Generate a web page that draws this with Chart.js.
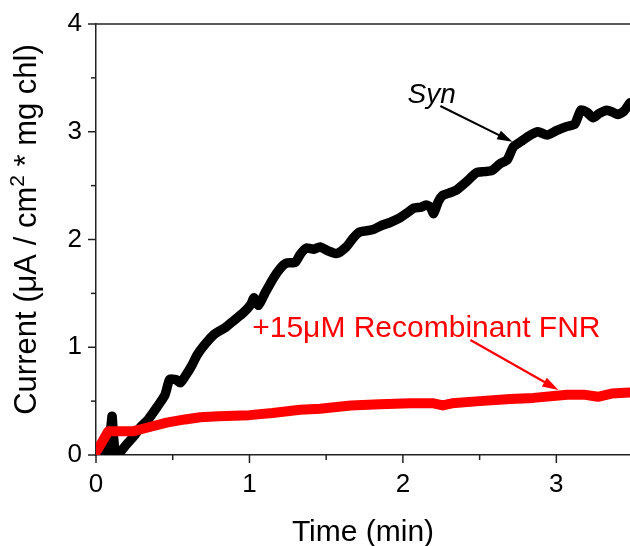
<!DOCTYPE html>
<html>
<head>
<meta charset="utf-8">
<script src="https://cdn.jsdelivr.net/npm/chart.js@4.4.1/dist/chart.umd.min.js"></script>
<style>
  html, body { margin: 0; padding: 0; background: #fff; }
  #wrap { width: 630px; height: 546px; position: relative; }
</style>
</head>
<body>
<div id="wrap"><canvas id="c" width="630" height="546"></canvas></div>
<script>
// ---- data ----
const xTicks = [0, 1, 2, 3];
const yTicks = [0, 1, 2, 3, 4];

const timeSyn = [0.05, 0.08, 0.10, 0.105, 0.115, 0.13, 0.16, 0.20, 0.25, 0.29, 0.34, 0.40, 0.45, 0.48, 0.52, 0.55, 0.59, 0.62, 0.66, 0.70, 0.77, 0.84, 0.90, 0.96, 1.01, 1.03, 1.06, 1.10, 1.16, 1.20, 1.24, 1.30, 1.33, 1.37, 1.42, 1.46, 1.52, 1.57, 1.63, 1.68, 1.72, 1.80, 1.86, 1.92, 1.98, 2.03, 2.07, 2.12, 2.15, 2.18, 2.20, 2.23, 2.26, 2.30, 2.35, 2.41, 2.48, 2.53, 2.58, 2.63, 2.68, 2.72, 2.77, 2.82, 2.88, 2.94, 3.00, 3.07, 3.12, 3.16, 3.20, 3.24, 3.28, 3.33, 3.37, 3.40, 3.44, 3.48];
const currentSyn = [0.00, 0.05, 0.30, 0.36, 0.15, 0.00, 0.03, 0.10, 0.18, 0.26, 0.33, 0.45, 0.56, 0.70, 0.70, 0.67, 0.75, 0.82, 0.93, 1.01, 1.12, 1.18, 1.25, 1.32, 1.40, 1.46, 1.39, 1.50, 1.65, 1.73, 1.78, 1.79, 1.86, 1.92, 1.91, 1.93, 1.89, 1.87, 1.93, 2.02, 2.07, 2.09, 2.13, 2.16, 2.20, 2.25, 2.29, 2.30, 2.32, 2.30, 2.24, 2.35, 2.41, 2.43, 2.46, 2.53, 2.62, 2.63, 2.64, 2.70, 2.74, 2.86, 2.91, 2.96, 3.00, 2.97, 3.01, 3.05, 3.07, 3.20, 3.18, 3.13, 3.17, 3.20, 3.18, 3.16, 3.19, 3.27];

const timeFnr = [0.00, 0.04, 0.08, 0.15, 0.24, 0.35, 0.46, 0.58, 0.68, 0.80, 1.00, 1.15, 1.33, 1.46, 1.66, 1.85, 2.05, 2.20, 2.26, 2.32, 2.50, 2.70, 2.85, 3.07, 3.18, 3.27, 3.36, 3.48];
const currentFnr = [0.03, 0.12, 0.22, 0.22, 0.22, 0.26, 0.30, 0.33, 0.35, 0.36, 0.37, 0.39, 0.42, 0.43, 0.46, 0.47, 0.48, 0.48, 0.46, 0.48, 0.50, 0.52, 0.53, 0.56, 0.56, 0.54, 0.57, 0.58];

const labelSyn = 'Syn';
const labelFnr = '+15\u03BCM Recombinant FNR';
const xTitle = 'Time (min)';
const yTitleParts = ['Current (\u03BCA / cm', '2', ' * mg chl)'];

// ---- chart ----
const FONT = "'Liberation Sans', Arial, sans-serif";

const toPts = (xs, ys) => xs.map((x, i) => ({ x: x, y: ys[i] }));

const decorPlugin = {
  id: 'decor',
  afterDraw(chart) {
    const ctx = chart.ctx;
    const xs = chart.scales.x, ys = chart.scales.y;
    const left = xs.left, right = xs.right;
    const top = ys.top, bottom = ys.bottom;
    ctx.save();
    // top frame line
    ctx.strokeStyle = '#222';
    ctx.lineWidth = 1.5;
    ctx.beginPath();
    ctx.moveTo(left, top);
    ctx.lineTo(right, top);
    ctx.stroke();
    // ticks: major every 1, minor every 0.5
    for (let v = 0; v <= xs.max + 1e-9; v += 0.5) {
      const px = xs.getPixelForValue(v);
      const len = Math.abs(v - Math.round(v)) < 1e-9 ? 8 : 5;
      ctx.beginPath();
      ctx.moveTo(px, bottom);
      ctx.lineTo(px, bottom + len);
      ctx.stroke();
    }
    for (let v = 0; v <= ys.max + 1e-9; v += 0.5) {
      const py = ys.getPixelForValue(v);
      const len = Math.abs(v - Math.round(v)) < 1e-9 ? 8 : 5;
      ctx.beginPath();
      ctx.moveTo(left, py);
      ctx.lineTo(left - len, py);
      ctx.stroke();
    }

    // y-axis title with a real superscript
    ctx.save();
    ctx.fillStyle = '#000';
    ctx.textBaseline = 'alphabetic';
    ctx.textAlign = 'left';
    const big = '31px ' + FONT, small = '21px ' + FONT;
    ctx.font = big; const w0 = ctx.measureText(yTitleParts[0]).width;
    ctx.font = small; const w1 = ctx.measureText(yTitleParts[1]).width;
    ctx.font = big; const w2 = ctx.measureText(yTitleParts[2]).width;
    const total = w0 + w1 + w2;
    const cy = (top + bottom) / 2 - 10;
    ctx.translate(36, cy);
    ctx.rotate(-Math.PI / 2);
    let xpos = -total / 2;
    ctx.font = big; ctx.fillText(yTitleParts[0], xpos, 0); xpos += w0;
    ctx.font = small; ctx.fillText(yTitleParts[1], xpos, -12); xpos += w1;
    ctx.font = big; ctx.fillText(yTitleParts[2], xpos, 0);
    ctx.restore();

    function arrow(x1, y1, x2, y2, color, lw, head) {
      const ang = Math.atan2(y2 - y1, x2 - x1);
      ctx.strokeStyle = color;
      ctx.fillStyle = color;
      ctx.lineWidth = lw;
      ctx.beginPath();
      ctx.moveTo(x1, y1);
      ctx.lineTo(x2 - Math.cos(ang) * head * 0.8, y2 - Math.sin(ang) * head * 0.8);
      ctx.stroke();
      ctx.beginPath();
      ctx.moveTo(x2, y2);
      ctx.lineTo(x2 - head * Math.cos(ang - 0.3), y2 - head * Math.sin(ang - 0.3));
      ctx.lineTo(x2 - head * Math.cos(ang + 0.3), y2 - head * Math.sin(ang + 0.3));
      ctx.closePath();
      ctx.fill();
    }

    // Syn annotation
    ctx.fillStyle = '#000';
    ctx.font = 'italic 28px ' + FONT;
    ctx.textBaseline = 'alphabetic';
    ctx.textAlign = 'left';
    ctx.fillText(labelSyn, xs.getPixelForValue(2.03), ys.getPixelForValue(3.27));
    arrow(xs.getPixelForValue(2.244), ys.getPixelForValue(3.239),
          xs.getPixelForValue(2.714), ys.getPixelForValue(2.907), '#000', 2, 16);

    // FNR annotation
    ctx.fillStyle = '#ff0000';
    ctx.font = '30px ' + FONT;
    ctx.fillText(labelFnr, xs.getPixelForValue(1.018), ys.getPixelForValue(1.095));
    arrow(xs.getPixelForValue(2.44), ys.getPixelForValue(1.067),
          xs.getPixelForValue(3.014), ys.getPixelForValue(0.603), '#ff0000', 2.2, 17);
    ctx.restore();
  }
};

new Chart(document.getElementById('c'), {
  type: 'line',
  data: {
    datasets: [
      {
        label: labelFnr,
        data: toPts(timeFnr, currentFnr),
        borderColor: '#ff0000',
        borderWidth: 10,
        pointRadius: 0,
        tension: 0,
        borderJoinStyle: 'round',
        borderCapStyle: 'round',
        order: 0
      },
      {
        label: labelSyn,
        data: toPts(timeSyn, currentSyn),
        borderColor: '#000000',
        borderWidth: 9.5,
        pointRadius: 0,
        tension: 0.2,
        borderJoinStyle: 'round',
        borderCapStyle: 'round',
        order: 1
      }
    ]
  },
  options: {
    responsive: false,
    animation: false,
    devicePixelRatio: 1,
    layout: { padding: { top: 24, right: 0, bottom: 0, left: 0 } },
    plugins: { legend: { display: false }, tooltip: { enabled: false } },
    scales: {
      x: {
        type: 'linear',
        min: 0,
        max: 3.48,
        afterBuildTicks(s) { s.ticks = xTicks.map(v => ({ value: v })); },
        afterFit(s) { s.height = 91; s.paddingLeft = 0; s.paddingRight = 0; },
        ticks: { color: '#000', font: { family: FONT, size: 26 }, padding: 14, maxRotation: 0, autoSkip: false },
        grid: { display: true, drawOnChartArea: false, drawTicks: false },
        border: { display: true, color: '#222', width: 1.5 },
        title: { display: true, text: xTitle, color: '#000', font: { family: FONT, size: 30 }, padding: { top: 0, bottom: -5 } }
      },
      y: {
        type: 'linear',
        min: 0,
        max: 4,
        afterBuildTicks(s) { s.ticks = yTicks.map(v => ({ value: v })); },
        afterFit(s) { s.width = 96; s.paddingTop = 0; s.paddingBottom = 0; },
        ticks: { color: '#000', font: { family: FONT, size: 26 }, padding: 14 },
        grid: { display: true, drawOnChartArea: false, drawTicks: false },
        border: { display: true, color: '#222', width: 1.5 }
      }
    }
  },
  plugins: [decorPlugin]
});
</script>
</body>
</html>
